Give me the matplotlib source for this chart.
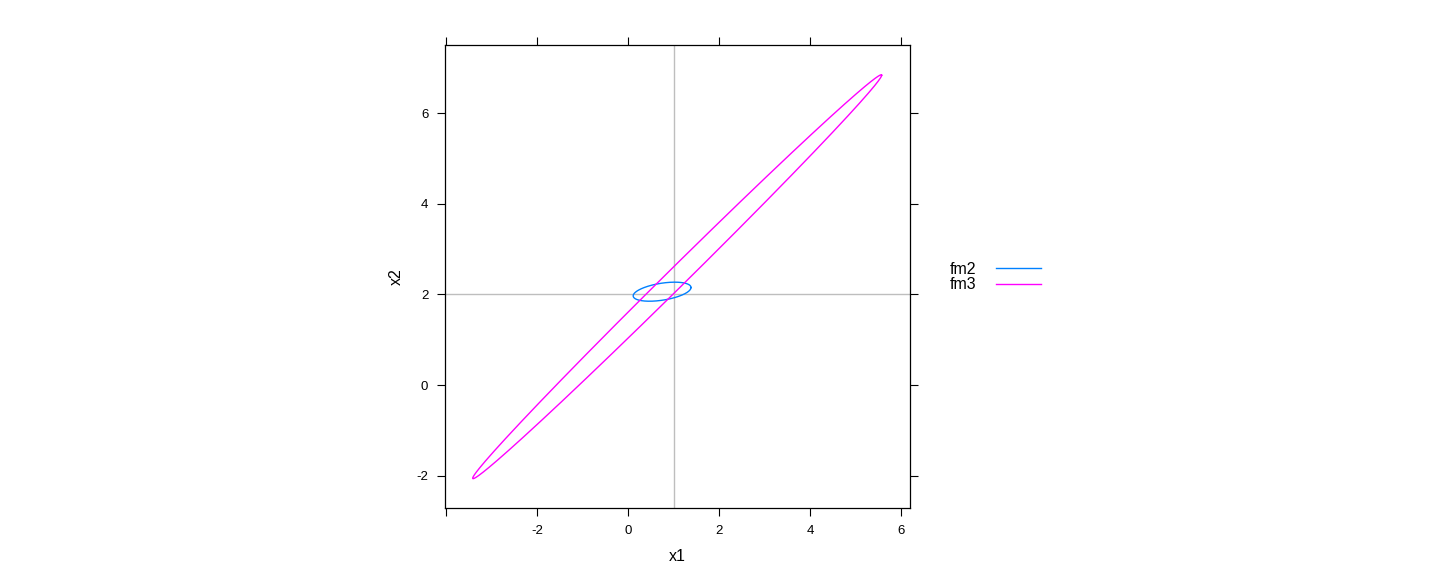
import numpy as np
import matplotlib
matplotlib.use("Agg")
import matplotlib.pyplot as plt

plt.rcParams['font.family'] = ['Liberation Sans', 'DejaVu Sans']

# confidence ellipses for (x1, x2) coefficients of two fits
models = ["fm2", "fm3"]
colors = ["#0080ff", "#ff00ff"]
est_x1 = [0.746, 1.078]
est_x2 = [2.06, 2.39]
se_x1 = [0.636, 4.499]
se_x2 = [0.21, 4.453]
corr = [0.4365, 0.9978]

# reference values
ref_x1 = 1
ref_x2 = 2

xticks = [-4, -2, 0, 2, 4, 6]
xticklabels = ["", "-2", "0", "2", "4", "6"]
yticks = [-2, 0, 2, 4, 6]

fig = plt.figure(figsize=(14.4, 5.76), dpi=100)
ax = fig.add_axes([445 / 1440, 1 - 508 / 576, 465 / 1440, 463 / 576])

ax.axvline(ref_x1, color="#bebebe", lw=1, zorder=1)
ax.axhline(ref_x2, color="#bebebe", lw=1, zorder=1)

t = np.linspace(0, 2 * np.pi, 400)
for i in range(len(models)):
    cov = np.array([[se_x1[i] ** 2, corr[i] * se_x1[i] * se_x2[i]],
                    [corr[i] * se_x1[i] * se_x2[i], se_x2[i] ** 2]])
    L = np.linalg.cholesky(cov)
    pts = L @ np.vstack([np.cos(t), np.sin(t)])
    ax.plot(est_x1[i] + pts[0], est_x2[i] + pts[1], color=colors[i], lw=1,
            label=models[i], zorder=2)

ax.set_xlim(-4.03, 6.20)
ax.set_ylim(-2.71, 7.50)

ax.set_xticks(xticks)
ax.set_xticklabels(xticklabels)
ax.set_yticks(yticks)
ax.set_yticklabels([str(v) for v in yticks])
ax.tick_params(direction="out", length=6, width=0.8, labelsize=9.5,
               top=True, right=True, labeltop=False, labelright=False, pad=6)
for s in ax.spines.values():
    s.set_linewidth(0.9)

ax.set_xlabel("x1", fontsize=11.5, labelpad=9)
ax.set_ylabel("x2", fontsize=11.5, labelpad=9)

ax.legend(loc="center left", bbox_to_anchor=(950 / 1440, 1 - 277 / 576),
          bbox_transform=fig.transFigure, frameon=False, markerfirst=False,
          fontsize=11.5, handlelength=2.8, handletextpad=1.2,
          labelspacing=0.05, borderpad=0, borderaxespad=0)

fig.savefig("out.png", dpi=100)
